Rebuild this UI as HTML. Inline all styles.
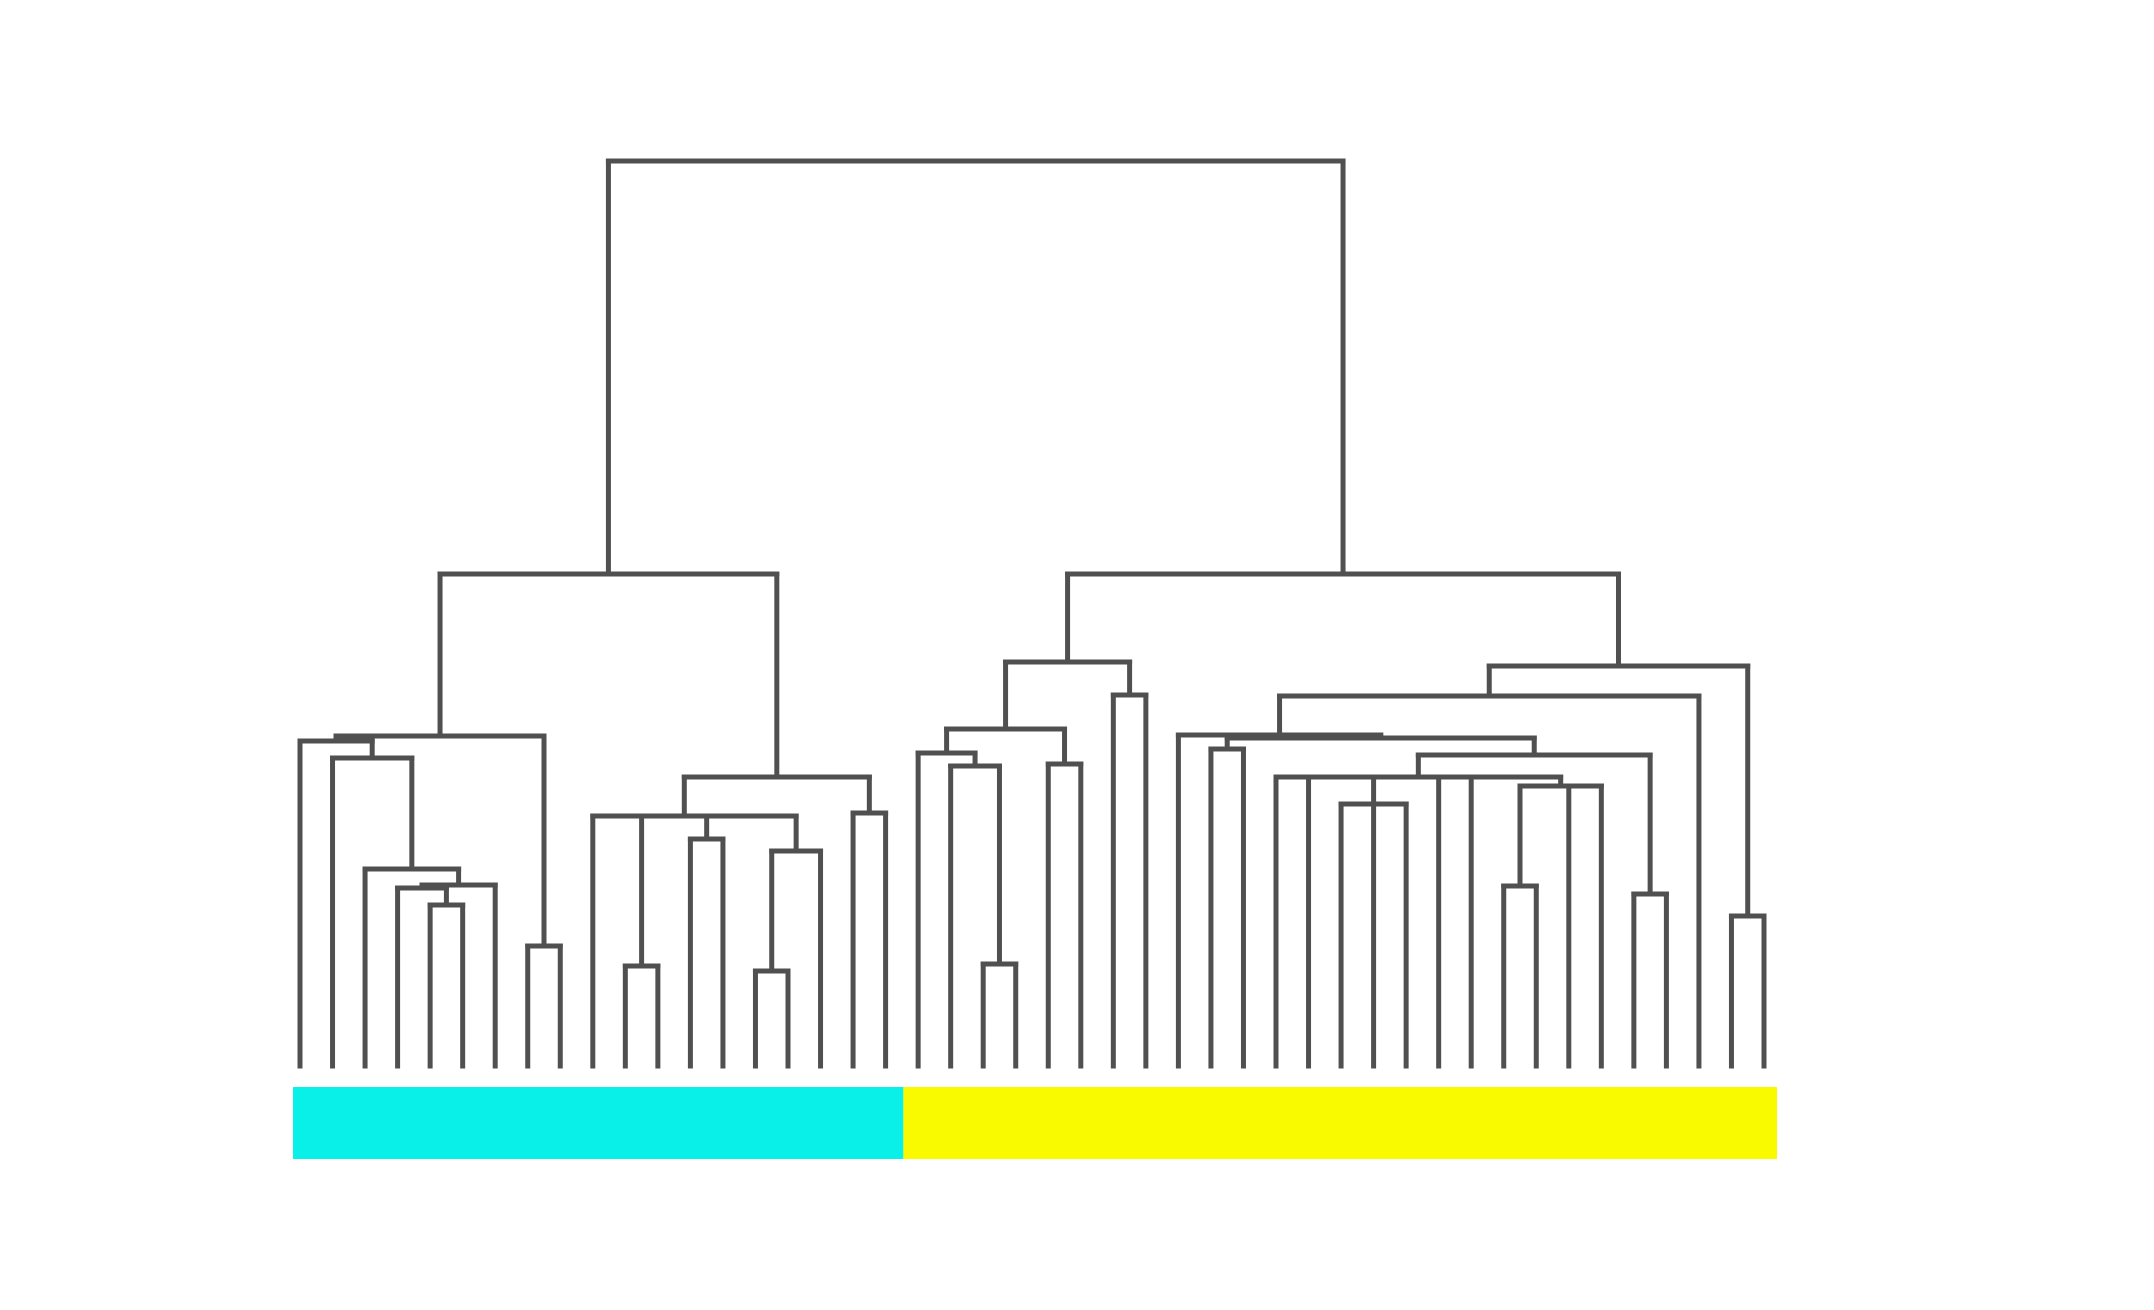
<!DOCTYPE html>
<html>
<head>
<meta charset="utf-8">
<style>
html,body{margin:0;padding:0;background:#fff;}
svg{display:block;}
</style>
</head>
<body>
<svg id="chart" width="2154" height="1310" viewBox="0 0 2154 1310" xmlns="http://www.w3.org/2000/svg">
  <rect x="0" y="0" width="2154" height="1310" fill="#ffffff"/>
  <g id="links" stroke="#505050" stroke-width="5" fill="none" stroke-linecap="square"></g>
  <g id="bars"></g>
</svg>
<script>
// ---- data ----
const leafCount = 46;
// cluster assignment per leaf (0 = cyan, 1 = yellow)
const leafClusters = [0,0,0,0,0,0,0,0,0,0,0,0,0,0,0,0,0,0,0,
  1,1,1,1,1,1,1,1,1,1,1,1,1,1,1,1,1,1,1,1,1,1,1,1,1,1,1];
const clusterColors = ["#08f0e8", "#f9f900"];
// merge tree: [height, child, child, ...]; numbers are leaf indices
const treeLeft = [4.92,
  [3.30, [3.25, 0, [3.08, 1, [1.97, 2, [1.81, [1.78, 3, [1.61, 4, 5]], 6]]]], [1.20, 7, 8]],
  [2.89, [2.50, [2.50, 9, [1.00, 10, 11]], [2.50, [2.27, 12, 13], [2.15, [0.95, 14, 15], 16]]], [2.53, 17, 18]]
];
const treeRight1 = [4.04, [3.37, [3.13, 19, [3.00, 20, [1.02, 21, 22]]], [3.02, 23, 24]], [3.71, 25, 26]];
const treeRight2 = [4.00,
  [3.70, [3.31, 27, [3.28, [3.17, 28, 29],
          [3.11, [2.89, 30, 31, [2.62, 32, 33, 34], 35, 36, [2.80, [1.80, 37, 38], 39, 40]], [1.72, 41, 42]]]], 43],
  [1.50, 44, 45]];
const rootHeight = 9.05;

// ---- axes ----
const X0 = 300, X1 = 1764, BASE = 1066, PX_PER_UNIT = 100;
function xScale(i){ return X0 + (X1 - X0) * i / (leafCount - 1); }
function yScale(h){ return BASE - h * PX_PER_UNIT; }

const NS = "http://www.w3.org/2000/svg";
const links = document.getElementById("links");
function line(x1,y1,x2,y2,name){
  const l = document.createElementNS(NS,"line");
  l.setAttribute("x1",x1); l.setAttribute("y1",y1);
  l.setAttribute("x2",x2); l.setAttribute("y2",y2);
  
  
  links.appendChild(l);
}
function draw(node){
  if (typeof node === "number") return {x: xScale(node), y: BASE};
  const h = node[0], y = yScale(h);
  const kids = node.slice(1).map(draw);
  kids.forEach(k => line(k.x, k.y, k.x, y, "dendrogram-branch"));
  const xs = kids.map(k => k.x);
  const xl = Math.min(...xs), xr = Math.max(...xs);
  line(xl, y, xr, y, "dendrogram-merge");
  return {x: (xl + xr) / 2, y: y};
}
const root = [rootHeight, treeLeft, [4.92, treeRight1, treeRight2]];
draw(root);

// cluster colour bar
const bars = document.getElementById("bars");
const half = (X1 - X0) / (leafCount - 1) / 2;
let start = 0;
for (let i = 1; i <= leafCount; i++){
  if (i === leafCount || leafClusters[i] !== leafClusters[start]){
    const r = document.createElementNS(NS,"rect");
    const xa = start === 0 ? xScale(0) - 7 : xScale(start) - half + 1.5;
    const xb = i === leafCount ? xScale(leafCount - 1) + 13 : xScale(i - 1) + half + 1.5;
    r.setAttribute("x", xa); r.setAttribute("y", 1087);
    r.setAttribute("width", xb - xa); r.setAttribute("height", 72);
    r.setAttribute("fill", clusterColors[leafClusters[start]]);
    
    
    bars.appendChild(r);
    start = i;
  }
}
</script>
</body>
</html>
